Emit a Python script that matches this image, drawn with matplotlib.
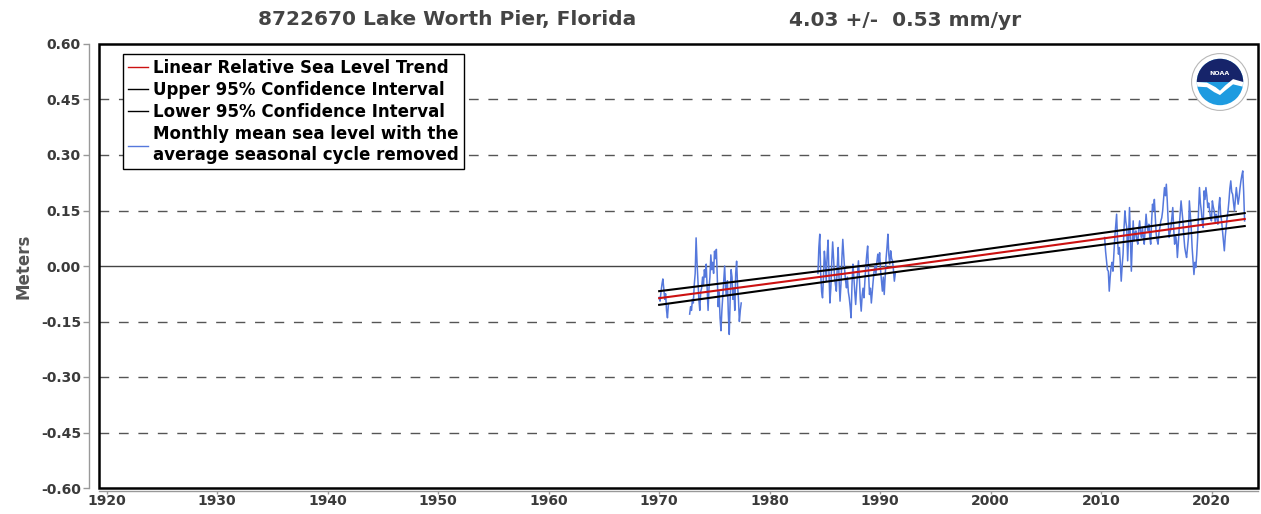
import numpy as np
import matplotlib
matplotlib.use("Agg")
import matplotlib.pyplot as plt
from matplotlib.lines import Line2D
from matplotlib.patches import Circle, Wedge, Polygon, Rectangle

# station / trend info
station = "8722670 Lake Worth Pier, Florida"
trend_text = "4.03 +/-  0.53 mm/yr"

# monthly mean sea level (m), seasonal cycle removed; start year of each gap-free piece
seg_starts = [1970.0, 1972.76, 1984.37, 2010.32]
seg1a = [-0.085, -0.095, -0.07, -0.05, -0.035, -0.06, -0.09, -0.075, -0.12, -0.14, -0.105]
seg1b = [-0.13, -0.11, -0.12, -0.09, -0.10, -0.05, -0.02, 0.076, 0.01, -0.04,
         -0.09, -0.12, -0.07, -0.06, -0.03, -0.05, -0.01, -0.03, 0.005, -0.06,
         -0.12, -0.06, -0.03, 0.03, -0.01, 0.01, -0.02, 0.04, 0.02, 0.045,
         -0.03, -0.11, -0.07, -0.14, -0.175, -0.12, -0.08, -0.04, 0.0, -0.06,
         -0.08, -0.04, -0.13, -0.185, -0.09, -0.01, -0.03, -0.09, -0.06, -0.12,
         -0.02, 0.013, -0.05, -0.09, -0.15, -0.12, -0.10]
seg2 = [-0.02, 0.05, 0.086, -0.02, -0.07, -0.086, -0.03, 0.04, 0.01, -0.04,
        0.03, 0.07, -0.02, -0.10, -0.06, 0.01, 0.065, 0.02, -0.03, -0.05,
        -0.068, 0.0, 0.05, -0.04, -0.095, -0.05, 0.02, 0.072, 0.03, -0.01,
        -0.04, -0.059, -0.03, -0.07, -0.086, -0.11, -0.14, -0.05, 0.005, -0.03,
        -0.07, -0.104, -0.06, -0.02, 0.014, -0.03, -0.09, -0.122, -0.08, -0.06,
        -0.086, -0.04, 0.0, 0.03, 0.054, -0.02, -0.077, -0.06, -0.10, -0.07,
        -0.04, -0.014, 0.0, -0.02, 0.01, 0.032, 0.01, 0.036, -0.01, -0.04,
        -0.068, -0.03, -0.077, -0.03, 0.02, 0.05, 0.086, 0.03, 0.005, 0.041,
        0.02, 0.014, -0.01, -0.041, -0.02]
seg3 = [0.077, 0.04, 0.014, -0.01, -0.014, -0.068, -0.03, -0.004, 0.01, -0.014,
        0.03, 0.077, 0.11, 0.140, 0.07, 0.032, 0.05, 0.01, -0.041, 0.0,
        0.032, 0.10, 0.149, 0.12, 0.104, 0.014, 0.08, 0.158, 0.07, -0.014,
        0.06, 0.122, 0.068, 0.09, 0.095, 0.07, 0.059, 0.10, 0.122, 0.09,
        0.077, 0.104, 0.08, 0.059, 0.10, 0.140, 0.11, 0.095, 0.113, 0.08,
        0.059, 0.12, 0.167, 0.15, 0.180, 0.13, 0.086, 0.07, 0.059, 0.09,
        0.104, 0.122, 0.13, 0.149, 0.18, 0.212, 0.19, 0.221, 0.176, 0.12,
        0.077, 0.09, 0.104, 0.13, 0.158, 0.10, 0.059, 0.08, 0.068, 0.023,
        0.06, 0.104, 0.14, 0.176, 0.15, 0.122, 0.08, 0.050, 0.035, 0.023,
        0.05, 0.077, 0.176, 0.14, 0.104, 0.05, 0.014, -0.023, 0.01, -0.004,
        0.03, 0.077, 0.15, 0.212, 0.17, 0.149, 0.12, 0.104, 0.203, 0.18,
        0.212, 0.19, 0.158, 0.17, 0.149, 0.13, 0.122, 0.176, 0.16, 0.149,
        0.12, 0.140, 0.13, 0.113, 0.16, 0.185, 0.14, 0.122, 0.095, 0.07,
        0.041, 0.08, 0.104, 0.13, 0.149, 0.176, 0.21, 0.230, 0.20, 0.194,
        0.17, 0.149, 0.18, 0.212, 0.19, 0.167, 0.185, 0.21, 0.230, 0.245,
        0.257, 0.20, 0.122]
segments = [seg1a, seg1b, seg2, seg3]

# trend line and 95% confidence limits (read at start, middle, end)
trend_years = [1970.0, 1992.0, 2023.0]
trend_vals = [-0.087, 0.0, 0.127]
upper_vals = [-0.068, 0.014, 0.143]
lower_vals = [-0.105, -0.014, 0.108]

y_ticks = [-0.60, -0.45, -0.30, -0.15, 0.00, 0.15, 0.30, 0.45, 0.60]
x_ticks = [1920, 1930, 1940, 1950, 1960, 1970, 1980, 1990, 2000, 2010, 2020]

blue = "#5578dc"
red = "#cc1111"
grey_txt = "#3a3a3a"

fig = plt.figure(figsize=(12.61, 5.14), dpi=100)
ax = fig.add_axes([99 / 1261, 26 / 514, 1159 / 1261, 444 / 514])

# grid lines
for yv in y_ticks:
    if yv == 0:
        ax.axhline(yv, color="#444444", lw=1.0, zorder=1)
    elif abs(yv) < 0.6:
        ax.axhline(yv, color="#555555", lw=1.0, dashes=(7, 7), zorder=1)

for start, vals in zip(seg_starts, segments):
    t = start + np.arange(len(vals)) / 12.0
    ax.plot(t, vals, color=blue, lw=1.1, zorder=2)

ax.plot(trend_years, upper_vals, color="black", lw=1.5, zorder=3)
ax.plot(trend_years, lower_vals, color="black", lw=1.5, zorder=3)
ax.plot(trend_years, trend_vals, color=red, lw=1.5, zorder=4)

ax.set_xlim(1919.3, 2024.2)
ax.set_ylim(-0.6, 0.6)
ax.set_yticks(y_ticks)
ax.set_yticklabels(["%.2f" % v for v in y_ticks])
ax.set_xticks(x_ticks)

ax.spines["left"].set_position(("outward", 7))
ax.spines["bottom"].set_position(("outward", 2))
for side in ["left", "bottom"]:
    ax.spines[side].set_color("#999999")
    ax.spines[side].set_linewidth(1.0)
for side in ["top", "right"]:
    ax.spines[side].set_visible(False)
ax.add_patch(Rectangle((0, 0), 1, 1, transform=ax.transAxes, fill=False,
                       edgecolor="black", lw=1.8, zorder=5, clip_on=False))

ax.tick_params(axis="y", colors="#999999", length=4, width=1,
               labelcolor=grey_txt, labelsize=10, pad=2)
ax.tick_params(axis="x", colors="#999999", length=2, width=1,
               labelcolor=grey_txt, labelsize=10, pad=0.5)
for lab in ax.get_xticklabels() + ax.get_yticklabels():
    lab.set_fontweight("bold")
ax.set_ylabel("Meters", fontsize=12, fontweight="bold", color="#555555", labelpad=6)

fig.text(447 / 1261, 1 - 20 / 514, station, ha="center", va="center",
         fontsize=14.5, fontweight="bold", color="#444444")
fig.text(905 / 1261, 1 - 20 / 514, trend_text, ha="center", va="center",
         fontsize=14.5, fontweight="bold", color="#444444")

handles = [Line2D([], [], color=red, lw=1),
           Line2D([], [], color="black", lw=1),
           Line2D([], [], color="black", lw=1),
           Line2D([], [], color=blue, lw=1)]
labels = ["Linear Relative Sea Level Trend",
          "Upper 95% Confidence Interval",
          "Lower 95% Confidence Interval",
          "Monthly mean sea level with the\naverage seasonal cycle removed"]
leg = ax.legend(handles, labels, loc="upper left", bbox_to_anchor=(0.021, 0.978),
                frameon=True, fancybox=False, framealpha=1, edgecolor="black",
                prop={"weight": "bold", "size": 12}, handlelength=1.2,
                handletextpad=0.3, labelspacing=0.25, borderpad=0.3,
                borderaxespad=0)
leg.get_frame().set_linewidth(1.0)
leg.set_zorder(6)

# NOAA logo (simplified)
lax = fig.add_axes([(1220 - 29) / 1261, (514 - 82 - 29) / 514, 58 / 1261, 58 / 514])
lax.set_xlim(-1, 1)
lax.set_ylim(-1, 1)
lax.set_aspect("equal")
lax.axis("off")
lax.add_patch(Circle((0, 0), 0.98, facecolor="white", edgecolor="#b8b8b8", lw=0.8))
lax.add_patch(Circle((0, 0), 0.80, facecolor="#1e9be0", edgecolor="none"))
lax.add_patch(Wedge((0, 0), 0.80, 0, 180, facecolor="#16246a", edgecolor="none"))
lax.add_patch(Polygon([(-0.80, 0.0), (-0.45, -0.02), (-0.15, -0.18), (0.0, -0.30),
                       (0.18, -0.12), (0.45, 0.10), (0.80, 0.0), (0.78, -0.16),
                       (0.45, -0.08), (0.15, -0.32), (0.0, -0.45), (-0.2, -0.35),
                       (-0.45, -0.18), (-0.78, -0.16)],
                      facecolor="white", edgecolor="none"))
lax.text(0, 0.30, "NOAA", color="white", fontsize=4.5, fontweight="bold",
         ha="center", va="center")

fig.savefig("out.png", dpi=100)
